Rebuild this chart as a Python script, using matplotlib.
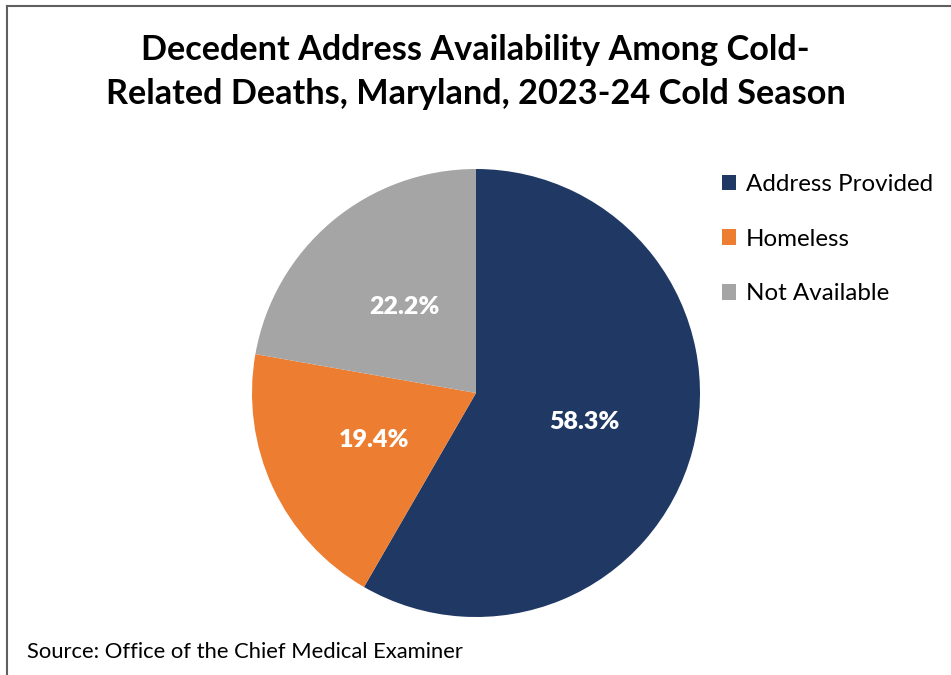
import matplotlib.pyplot as plt
from matplotlib.lines import Line2D

categories = ['Address Provided', 'Homeless', 'Not Available']
counts = [21, 7, 8]
colors = ['#203864', '#ED7D31', '#A5A5A5']
title = 'Decedent Address Availability Among Cold-\nRelated Deaths, Maryland, 2023-24 Cold Season'
source = 'Source: Office of the Chief Medical Examiner'

W, H = 951, 675
fig = plt.figure(figsize=(W / 100, H / 100), dpi=100)
plt.rcParams['font.family'] = ['Lato', 'DejaVu Sans']

# chart border (only top and left edges visible)
fig.add_artist(Line2D([7 / W, 1.0], [1 - 6 / H, 1 - 6 / H], color='#5f5f5f', lw=1.5))
fig.add_artist(Line2D([7 / W, 7 / W], [0, 1 - 6 / H], color='#5f5f5f', lw=1.5))

cx, cy, r = 476, 393, 224
ax = fig.add_axes([(cx - r) / W, (H - cy - r) / H, 2 * r / W, 2 * r / H])
wedges, _, autotexts = ax.pie(counts, colors=colors, startangle=90, counterclock=False,
                              autopct='%1.1f%%', pctdistance=0.5,
                              textprops=dict(color='white', fontsize=18, fontweight='heavy'))
ax.set_aspect('equal')
ax.set_xlim(-1, 1)
ax.set_ylim(-1, 1)

fig.text(0.5, 1 - 72 / H, title, ha='center', va='center', fontsize=24.7,
         fontweight='bold', linespacing=1.5)

fig.legend(wedges, categories, loc='upper left', bbox_to_anchor=(700 / W, 1 - 152 / H),
           frameon=False, fontsize=17.4, handlelength=0.6, handleheight=0.6,
           handletextpad=0.4, labelspacing=1.4)

fig.text(27 / W, 1 - 652 / H, source, ha='left', va='center', fontsize=15.8)

fig.savefig('out.png', dpi=100)
